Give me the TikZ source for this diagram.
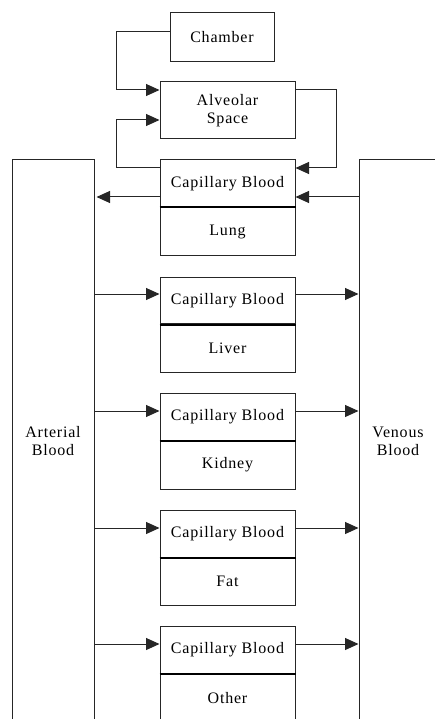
\documentclass[tikz,border=0pt]{standalone}
\usepackage{fontspec}
\setmainfont{Liberation Serif}[LetterSpace=5]
\usetikzlibrary{arrows.meta}
\begin{document}
\begin{tikzpicture}[x=1pt,y=1pt,
  box/.style={draw=black!85,line width=1pt,rectangle,inner sep=0pt,align=center,
    font=\fontsize{16}{18}\selectfont},
  wire/.style={draw=black!85,line width=1pt},
  arr/.style={wire,-{Triangle[length=13.5pt,width=12pt]}},
  divider/.style={draw=black,line width=2pt}]
\useasboundingbox (0,0) rectangle (435,-719);
\clip (0,0) rectangle (435,-719);
% top boxes
\node[box,minimum width=104,minimum height=49] (chamber) at (222,-37.5) {Chamber};
\node[box,minimum width=135,minimum height=57] (alv) at (227.5,-110.5) {Alveolar\\Space};
% arterial and venous
\node[box,minimum width=82,minimum height=562] (art) at (53,-441) {Arterial\\Blood};
\node[box,minimum width=78,minimum height=562] (ven) at (398,-441) {Venous\\Blood};
% compartments
\foreach \name/\lab/\yc/\yo in {lung/Lung/183.5/231.5, liver/Liver/300.5/348, kidney/Kidney/417/465, fat/Fat/533.5/581.5, other/Other/650/698}{
  \node[box,minimum width=135,minimum height=47] (\name cap) at (227.5,-\yc) {Capillary Blood};
  \node[box,minimum width=135,minimum height=48.5] (\name) at (227.5,-\yo) {\lab};
  \draw[divider] (\name cap.south west) -- (\name cap.south east);
}
% lung connections
\coordinate (c1) at (116,-32);
\coordinate (c2) at (116,-90);
\draw[arr] ([yshift=5.5]chamber.west) -- (c1) -- (c2) -- (alv.west |- c2);
\coordinate (c3) at (336,-90);
\coordinate (c4) at (336,-168);
\draw[arr] (alv.east |- c3) -- (c3) -- (c4) -- (lungcap.east |- c4);
\coordinate (c5) at (116,-168);
\coordinate (c6) at (116,-120);
\draw[arr] (lungcap.west |- c5) -- (c5) -- (c6) -- (alv.west |- c6);
\coordinate (c7) at (0,-197);
\draw[arr] (lungcap.west |- c7) -- ([xshift=2]art.east |- c7);
\draw[arr] (ven.west |- c7) -- (lungcap.east |- c7);
% organ connections
\foreach \name/\ya in {liver/294, kidney/411, fat/528, other/644}{
  \coordinate (a\name) at (0,-\ya);
  \draw[arr] (art.east |- a\name) -- (\name cap.west |- a\name);
  \draw[arr] (\name cap.east |- a\name) -- (ven.west |- a\name);
}
\end{tikzpicture}
\end{document}
